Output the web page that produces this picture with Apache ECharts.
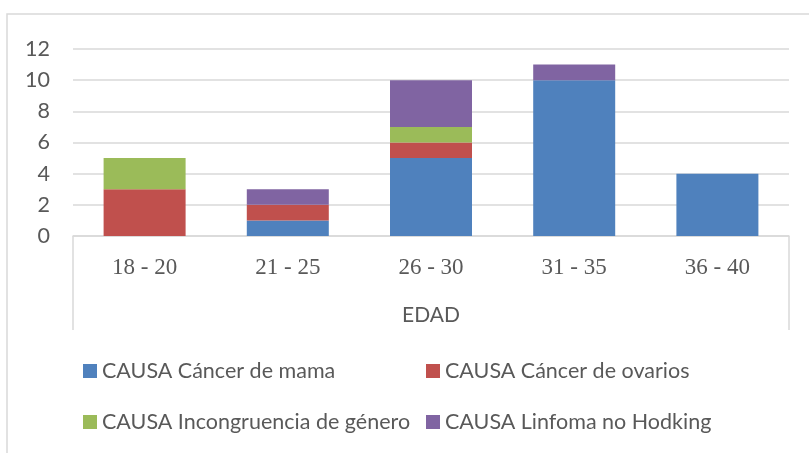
<!DOCTYPE html>
<html>
<head>
<meta charset="utf-8">
<script src="https://cdn.jsdelivr.net/npm/echarts@6/dist/echarts.min.js"></script>
<style>
  html, body { margin: 0; padding: 0; background: #fff; }
  #chart { width: 809px; height: 453px; }
</style>
</head>
<body>
<div id="chart"></div>
<script>
// Data
const edades = ['18 - 20', '21 - 25', '26 - 30', '31 - 35', '36 - 40'];
const cancerMama = [0, 1, 5, 10, 4];
const cancerOvarios = [3, 1, 1, 0, 0];
const incongruencia = [2, 0, 1, 0, 0];
const linfoma = [0, 1, 3, 1, 0];
const seriesNames = [
  'CAUSA Cáncer de mama',
  'CAUSA Cáncer de ovarios',
  'CAUSA Incongruencia de género',
  'CAUSA Linfoma no Hodking'
];
const colors = ['#4F81BD', '#C0504D', '#9BBB59', '#8064A2'];

const sans = 'Lato, "Open Sans", sans-serif';
const textColor = '#595959';
const gridColor = '#D9D9D9';

const chart = echarts.init(document.getElementById('chart'));

// one legend per item so the columns line up like the original
const legendPos = [[83, 360], [426, 360], [83, 411], [426, 411]];
const legends = seriesNames.map((name, i) => ({
  data: [name],
  left: legendPos[i][0],
  top: legendPos[i][1],
  padding: 0,
  itemWidth: 14,
  itemHeight: 14,
  itemGap: 5,
  icon: 'rect',
  textStyle: { color: textColor, fontFamily: sans, fontSize: 21.5 }
}));

const makeSeries = (name, data, color) => ({
  name: name,
  type: 'bar',
  stack: 'total',
  barWidth: 82,
  data: data,
  itemStyle: { color: color }
});

const option = {
  animation: false,
  color: colors,
  legend: legends,
  grid: { left: 73, right: 20, top: 49, bottom: 217 },
  xAxis: {
    type: 'category',
    data: edades,
    name: 'EDAD',
    nameLocation: 'middle',
    nameGap: 69,
    nameTextStyle: { color: textColor, fontFamily: sans, fontSize: 21 },
    axisLine: { lineStyle: { color: gridColor, width: 1.5 } },
    axisTick: { show: false },
    axisLabel: {
      color: textColor,
      fontFamily: '"Liberation Serif", "Times New Roman", serif',
      fontSize: 23,
      margin: 20
    }
  },
  yAxis: {
    type: 'value',
    min: 0,
    max: 12,
    interval: 2,
    axisLine: { show: false },
    axisTick: { show: false },
    axisLabel: { color: textColor, fontFamily: sans, fontSize: 21.5, margin: 23 },
    splitLine: { lineStyle: { color: gridColor, width: 1.5 } }
  },
  series: [
    makeSeries(seriesNames[0], cancerMama, colors[0]),
    makeSeries(seriesNames[1], cancerOvarios, colors[1]),
    makeSeries(seriesNames[2], incongruencia, colors[2]),
    makeSeries(seriesNames[3], linfoma, colors[3])
  ]
};

chart.setOption(option);

// outer frame and the side lines of the category axis box
const c0 = chart.convertToPixel({ xAxisIndex: 0 }, 0);
const c1 = chart.convertToPixel({ xAxisIndex: 0 }, 1);
const band = c1 - c0;
const xStart = c0 - band / 2;
const xEnd = xStart + band * edades.length;
const yZero = chart.convertToPixel({ yAxisIndex: 0 }, 0);
const boxDepth = 94;
const lineStyle = { stroke: gridColor, lineWidth: 1.5 };

chart.setOption({
  graphic: [
    { type: 'rect', shape: { x: 7, y: 14, width: 900, height: 600 },
      style: { fill: 'none', stroke: gridColor, lineWidth: 1.5 }, silent: true },
    { type: 'line', shape: { x1: xStart, y1: yZero, x2: xStart, y2: yZero + boxDepth },
      style: lineStyle, silent: true },
    { type: 'line', shape: { x1: xEnd, y1: yZero, x2: xEnd, y2: yZero + boxDepth },
      style: lineStyle, silent: true }
  ]
});
</script>
</body>
</html>
